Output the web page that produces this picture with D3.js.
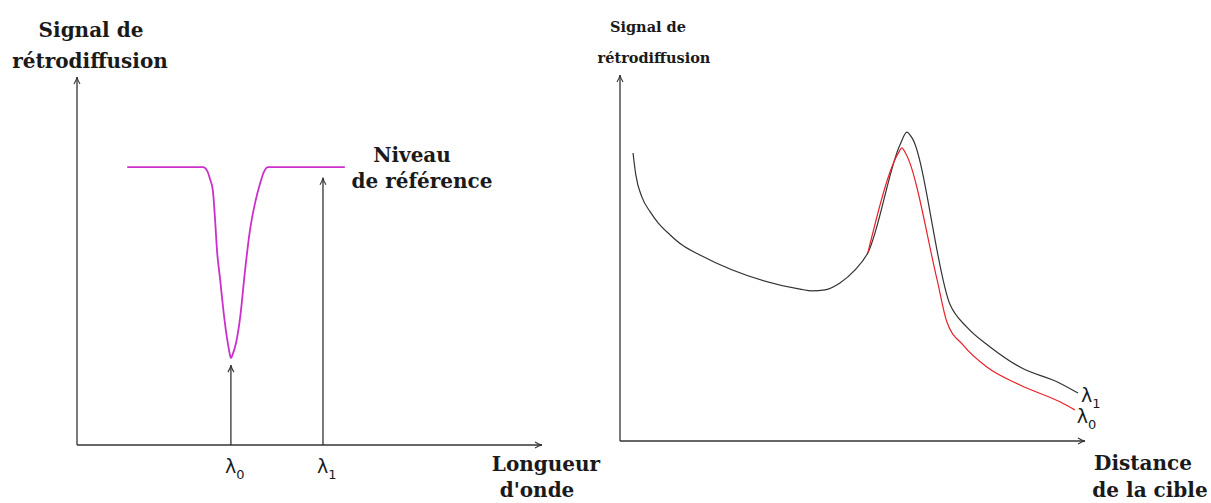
<!DOCTYPE html>
<html>
<head>
<meta charset="utf-8">
<script src="https://cdn.jsdelivr.net/npm/d3@7"></script>
<style>
  body { margin: 0; background: #fff; }
  text { font-family: "DejaVu Serif", serif; fill: #1a1a1a; }
</style>
</head>
<body>
<div id="datavis"></div>
<script>
// left panel: backscatter signal vs wavelength (arbitrary units, 0-100)
let wavelength = [10.8, 27.1, 28.0, 28.6, 29.2, 29.7, 30.1, 30.8, 31.4, 32.0, 32.5, 32.9, 33.1,
                  33.5, 34.2, 35.1, 36.1, 37.2, 38.3, 39.4, 40.2, 41.1, 57.6]
let signalWl = [75.5, 75.5, 74.5, 72.3, 69.3, 61.1, 53.0, 44.8, 37.5, 31.3, 27.2, 24.5, 23.6,
                24.7, 27.7, 34.8, 47.0, 58.4, 65.8, 71.2, 74.2, 75.5, 75.5]
let lambdaPos = [33.1, 52.9]      // lambda0, lambda1 on the wavelength axis
let lambdaTop = [21.7, 72.6]      // where each arrow stops
let lambdaNames = ['0', '1']

// right panel: backscatter signal vs target distance
let dist1 = [2.8, 3.4, 4.7, 6.5, 8.2, 10.8, 13.3, 17.2, 38.7, 41.3, 44.1, 47.3, 50.5, 53.3,
             60.2, 61.7, 62.8, 71.0, 74.6, 79.6, 86.0, 94.6, 98.5]
let sig1  = [78.7, 72.7, 66.7, 62.6, 59.6, 56.3, 53.6, 50.8, 41.5, 41.0, 41.3, 43.2, 46.7, 51.4,
             80.9, 84.4, 82.8, 37.2, 31.1, 25.7, 20.2, 15.8, 13.1]
let dist0 = [53.3, 60.0, 60.6, 61.5, 68.2, 70.3, 73.8, 78.9, 86.0, 94.6, 97.8]
let sig0  = [51.4, 79.0, 80.1, 78.4, 44.0, 32.5, 26.2, 20.2, 15.3, 10.7, 8.5]

let width = 1211,
    height = 503

let svg = d3.select('#datavis')
  .append('svg')
    .attr('width', width)
    .attr('height', height)

// small open arrow head, latex style
svg.append('defs').append('marker')
    .attr('id', 'arrow')
    .attr('viewBox', '-9 -5 10 10')
    .attr('refX', 0)
    .attr('refY', 0)
    .attr('markerWidth', 10)
    .attr('markerHeight', 10)
    .attr('markerUnits', 'userSpaceOnUse')
    .attr('orient', 'auto')
  .append('path')
    .attr('d', 'M-7,-3 Q-3,-0.5 0,0 Q-3,0.5 -7,3')
    .attr('fill', 'none')
    .attr('stroke', '#333')
    .attr('stroke-width', 1.1)

let xL = d3.scaleLinear().domain([0, 100]).range([77, 542])
let yL = d3.scaleLinear().domain([0, 100]).range([445, 77])
let xR = d3.scaleLinear().domain([0, 100]).range([620, 1085])
let yR = d3.scaleLinear().domain([0, 100]).range([441, 75])

function axes(x, y) {
  svg.append('line')
    .attr('x1', x(0)).attr('y1', y(0)).attr('x2', x(100)).attr('y2', y(0))
    .attr('stroke', '#333').attr('stroke-width', 1.3)
    .attr('marker-end', 'url(#arrow)')
  svg.append('line')
    .attr('x1', x(0)).attr('y1', y(0)).attr('x2', x(0)).attr('y2', y(100))
    .attr('stroke', '#333').attr('stroke-width', 1.3)
    .attr('marker-end', 'url(#arrow)')
}
axes(xL, yL)
axes(xR, yR)

// two-line labels, each line centred on its own x
function label(lines, y, gap, size) {
  let t = svg.append('text')
    .attr('y', y)
    .attr('text-anchor', 'middle')
    .style('font-size', size + 'px')
    .style('font-weight', 'bold')
  lines.forEach((l, i) => {
    t.append('tspan').attr('x', l[0]).attr('dy', i ? gap : 0).text(l[1])
  })
}

function lambda(x, y, sub) {
  let t = svg.append('text').attr('x', x).attr('y', y)
    .style('font-family', '"DejaVu Sans", sans-serif')
    .style('font-size', '19px')
  t.append('tspan').text('λ')
  t.append('tspan').attr('dy', 6).style('font-size', '13px').text(sub)
}

// ---- left panel
let lineL = d3.line()
  .x(d => xL(d[0]))
  .y(d => yL(d[1]))
  .curve(d3.curveMonotoneX)

svg.append('path')
  .datum(d3.zip(wavelength, signalWl))
  .attr('d', lineL)
  .attr('fill', 'none')
  .attr('stroke', '#cc2fcc')
  .attr('stroke-width', 1.8)

svg.selectAll('lambdaArrows')
  .data(lambdaPos)
  .enter()
  .append('line')
    .attr('x1', d => xL(d))
    .attr('x2', d => xL(d))
    .attr('y1', yL(0))
    .attr('y2', (d, i) => yL(lambdaTop[i]))
    .attr('stroke', '#222')
    .attr('stroke-width', 1.2)
    .attr('marker-end', 'url(#arrow)')

lambdaPos.forEach((d, i) => lambda(xL(d) - 6, 473, lambdaNames[i]))

label([[91, 'Signal de'], [90, 'rétrodiffusion']], 37, 31, 20)
label([[412, 'Niveau'], [422, 'de référence']], 162, 26, 20)
label([[546, 'Longueur'], [537, "d'onde"]], 471, 26, 20)

// ---- right panel
let lineR = d3.line()
  .x(d => xR(d[0]))
  .y(d => yR(d[1]))
  .curve(d3.curveMonotoneX)

svg.append('path')
  .datum(d3.zip(dist1, sig1))
  .attr('d', lineR)
  .attr('fill', 'none')
  .attr('stroke', '#333')
  .attr('stroke-width', 1.2)

svg.append('path')
  .datum(d3.zip(dist0, sig0))
  .attr('d', lineR)
  .attr('fill', 'none')
  .attr('stroke', '#e8222a')
  .attr('stroke-width', 1.2)

lambda(xR(dist1[dist1.length - 1]) + 3, yR(sig1[sig1.length - 1]) + 9, '1')
lambda(xR(dist0[dist0.length - 1]) + 2, yR(sig0[sig0.length - 1]) + 13, '0')

label([[648, 'Signal de'], [654, 'rétrodiffusion']], 32, 31, 14.5)
label([[1143, 'Distance'], [1150, 'de la cible']], 470, 27, 20)
</script>
</body>
</html>
